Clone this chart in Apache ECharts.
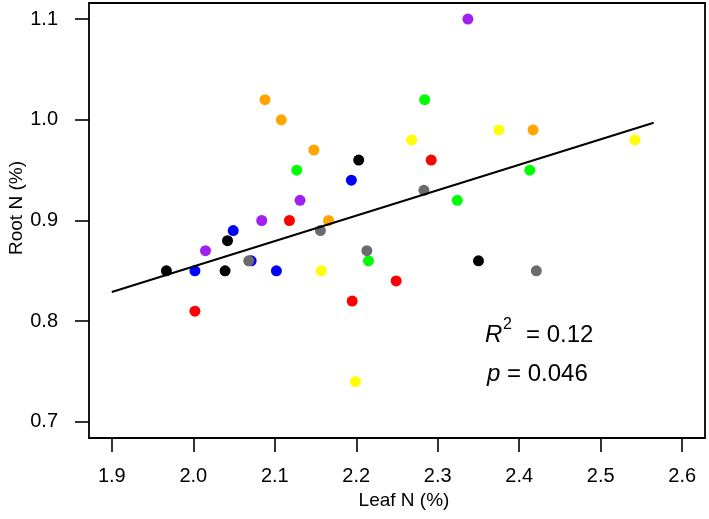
<!DOCTYPE html>
<html>
<head>
<meta charset="utf-8">
<script src="https://cdn.jsdelivr.net/npm/echarts@6/dist/echarts.min.js"></script>
<style>
html,body{margin:0;padding:0;background:#fff;}
#chart{width:709px;height:519px;}
</style>
</head>
<body>
<div id="chart"></div>
<script>
// ---- data ----
const xTicks = [1.9, 2.0, 2.1, 2.2, 2.3, 2.4, 2.5, 2.6];
const yTicks = [0.7, 0.8, 0.9, 1.0, 1.1];

const blackPts  = [[1.967, 0.85], [2.039, 0.85], [2.042, 0.88], [2.203, 0.96], [2.350, 0.86]];
const bluePts   = [[2.002, 0.85], [2.049, 0.89], [2.071, 0.86], [2.102, 0.85], [2.194, 0.94]];
const purplePts = [[2.015, 0.87], [2.084, 0.90], [2.131, 0.92], [2.337, 1.10]];
const redPts    = [[2.002, 0.81], [2.118, 0.90], [2.195, 0.82], [2.249, 0.84], [2.292, 0.96]];
const orangePts = [[2.088, 1.02], [2.108, 1.00], [2.148, 0.97], [2.166, 0.90], [2.417, 0.99]];
const yellowPts = [[2.157, 0.85], [2.199, 0.74], [2.268, 0.98], [2.375, 0.99], [2.542, 0.98]];
const greenPts  = [[2.127, 0.95], [2.215, 0.86], [2.284, 1.02], [2.324, 0.92], [2.413, 0.95]];
const grayPts   = [[2.068, 0.86], [2.156, 0.89], [2.213, 0.87], [2.283, 0.93], [2.421, 0.85]];

const fitX = [1.900, 2.565];
const fitY = [0.829, 0.997];

const xTitle = 'Leaf N (%)';
const yTitle = 'Root N (%)';
const statR2 = '0.12';
const statP = '0.046';

// ---- chart ----
const groups = [
  ['black', blackPts, '#000000'],
  ['blue', bluePts, '#0000FF'],
  ['purple', purplePts, '#A020F0'],
  ['red', redPts, '#FF0000'],
  ['orange', orangePts, '#FFA500'],
  ['yellow', yellowPts, '#FFFF00'],
  ['green', greenPts, '#00FF00'],
  ['gray', grayPts, '#6B6B6B']
];

const font = 'Liberation Sans, Arial, Helvetica, sans-serif';
const series = groups.map(g => ({
  name: g[0],
  type: 'scatter',
  data: g[1],
  symbol: 'circle',
  symbolSize: 11,
  itemStyle: { color: g[2], opacity: 1 },
  emphasis: { disabled: true },
  animation: false
}));
series.push({
  name: 'fit',
  type: 'line',
  data: fitX.map((x, i) => [x, fitY[i]]),
  symbol: 'none',
  lineStyle: { color: '#000', width: 2 },
  z: 5,
  animation: false
});

const chart = echarts.init(document.getElementById('chart'), null, { renderer: 'canvas' });
chart.setOption({
  backgroundColor: '#fff',
  animation: false,
  grid: {
    left: 89, right: 4, top: 3, bottom: 81,
    show: true, borderColor: '#000', borderWidth: 1.8, backgroundColor: 'transparent'
  },
  xAxis: {
    type: 'value', min: 1.872, max: 2.628,
    axisLine: { show: false },
    axisTick: { show: true, length: 14, customValues: xTicks, lineStyle: { color: '#000', width: 1.6 } },
    axisLabel: { customValues: xTicks, margin: 28, fontFamily: font, fontSize: 20, color: '#000',
      formatter: v => v.toFixed(1) },
    splitLine: { show: false }
  },
  yAxis: {
    type: 'value', min: 0.684, max: 1.116,
    axisLine: { show: false },
    axisTick: { show: true, length: 14, customValues: yTicks, lineStyle: { color: '#000', width: 1.6 } },
    axisLabel: { customValues: yTicks, margin: 31, fontFamily: font, fontSize: 20, color: '#000',
      formatter: v => v.toFixed(1) },
    splitLine: { show: false }
  },
  series: series,
  graphic: [
    { type: 'text', x: 404, y: 501, style: { text: xTitle, font: '19px ' + font, fill: '#000', align: 'center', verticalAlign: 'middle' } },
    { type: 'text', x: 17, y: 208, rotation: Math.PI / 2, style: { text: yTitle, font: '19px ' + font, fill: '#000', align: 'center', verticalAlign: 'middle' } },
    { type: 'text', left: 485, top: 323, style: { text: 'R', font: 'italic 24px ' + font, fill: '#000' } },
    { type: 'text', left: 503, top: 317, style: { text: '2', font: '16px ' + font, fill: '#000' } },
    { type: 'text', left: 526, top: 323, style: { text: '= ' + statR2, font: '24px ' + font, fill: '#000' } },
    { type: 'text', left: 487, top: 362, style: { text: 'p', font: 'italic 24px ' + font, fill: '#000' } },
    { type: 'text', left: 507, top: 362, style: { text: '= ' + statP, font: '24px ' + font, fill: '#000' } }
  ]
});
</script>
</body>
</html>
